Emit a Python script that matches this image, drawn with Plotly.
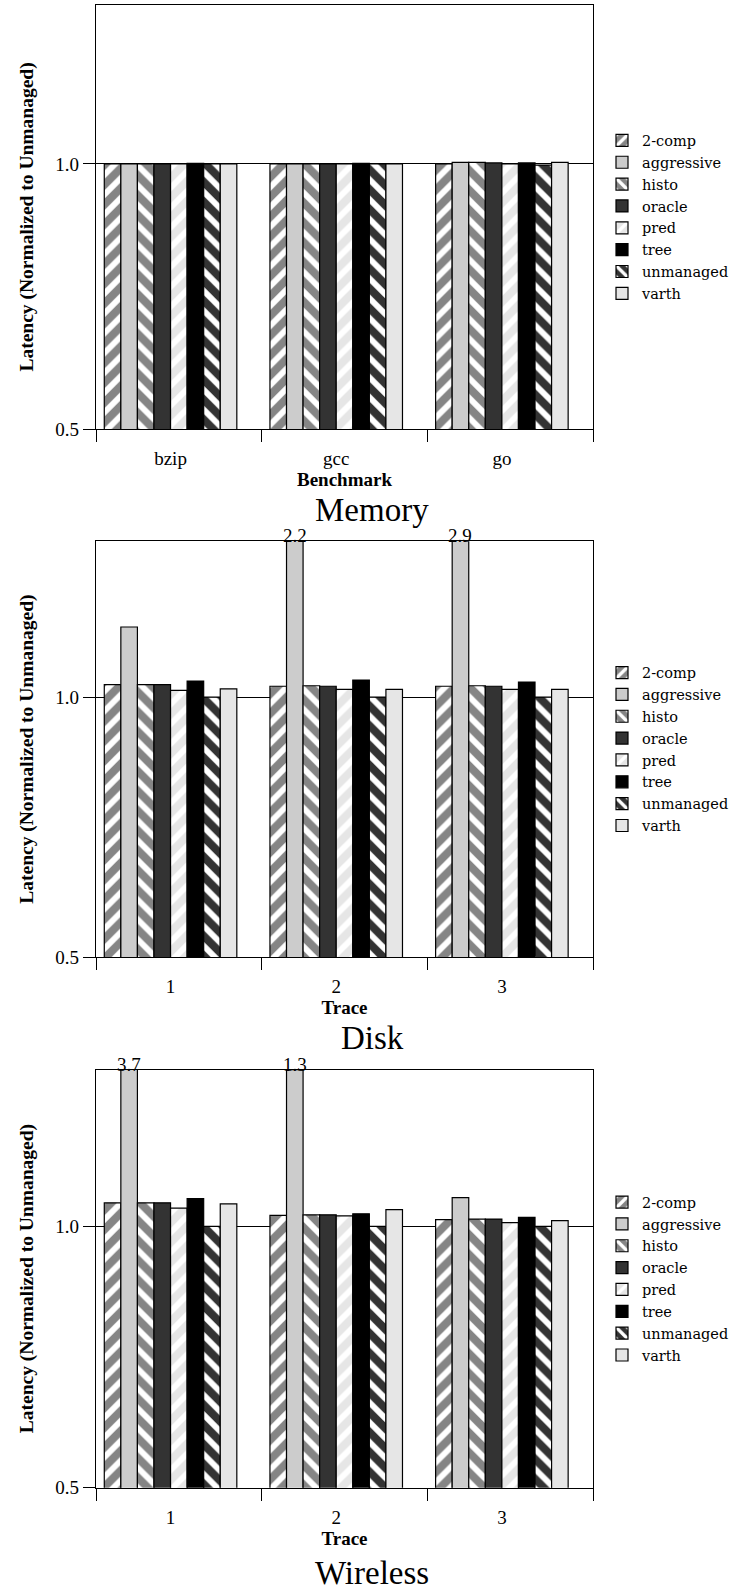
import plotly.graph_objects as go

# ---- data -------------------------------------------------------------
series = ["2-comp", "aggressive", "histo", "oracle", "pred", "tree", "unmanaged", "varth"]

benchmarks = ["bzip", "gcc", "go"]
traces = ["1", "2", "3"]

# latency normalised to the unmanaged policy, one row per series
memory_latency = [
    [1.000, 1.000, 1.000],   # 2-comp
    [1.000, 1.000, 1.003],   # aggressive
    [1.000, 1.000, 1.003],   # histo
    [1.000, 1.000, 1.002],   # oracle
    [1.000, 1.000, 1.000],   # pred
    [1.001, 1.001, 1.002],   # tree
    [1.000, 1.000, 0.998],   # unmanaged
    [1.000, 1.000, 1.003],   # varth
]

disk_latency = [
    [1.024, 1.021, 1.021],   # 2-comp
    [1.135, 2.2, 2.9],       # aggressive
    [1.024, 1.022, 1.022],   # histo
    [1.024, 1.021, 1.021],   # oracle
    [1.013, 1.015, 1.015],   # pred
    [1.031, 1.033, 1.029],   # tree
    [1.000, 1.000, 1.000],   # unmanaged
    [1.016, 1.015, 1.015],   # varth
]

wireless_latency = [
    [1.045, 1.021, 1.013],   # 2-comp
    [3.7, 1.3, 1.055],       # aggressive
    [1.045, 1.022, 1.014],   # histo
    [1.045, 1.022, 1.014],   # oracle
    [1.035, 1.020, 1.007],   # pred
    [1.053, 1.024, 1.017],   # tree
    [1.000, 1.000, 1.000],   # unmanaged
    [1.043, 1.032, 1.011],   # varth
]

y_ticks = [0.5, 1.0]
y_tick_labels = ["0.5", "1.0"]

# ---- styling ------------------------------------------------------------
fill = ["#858585", "#cccccc", "#858585", "#333333", "#e6e6e6", "#000000", "#333333", "#e6e6e6"]
hatch = ["/", "", "\\", "", "/", "", "\\", ""]

W, H = 744, 1594
PLOT_LEFT, PLOT_RIGHT = 96, 593
panel_top = [5, 545, 1077]
panel_bottom = [432, 963.7, 1498]
title_gap = [82, 82, 86]
Y_MIN, Y_MAX = 0.5, 1.3
BAR_W = 0.1
X_RANGE = [-0.45, 2.55]

SERIF = "Liberation Serif"
WIDE_SERIF = "DejaVu Serif"

panels = [
    (benchmarks, memory_latency, "Benchmark", "Memory"),
    (traces, disk_latency, "Trace", "Disk"),
    (traces, wireless_latency, "Trace", "Wireless"),
]

fig = go.Figure()
annotations = []


def py(px):
    return 1 - px / H


for p, (cats, values, xtitle, ptitle) in enumerate(panels):
    sfx = "" if p == 0 else str(p + 1)
    xref, yref = "x" + sfx, "y" + sfx
    legend_id = "legend" + sfx
    xpos = list(range(len(cats)))

    for k, name in enumerate(series):
        offset = -0.4 + BAR_W * k
        fig.add_trace(go.Bar(
            x=xpos, y=values[k], name=name,
            xaxis=xref, yaxis=yref, legend=legend_id,
            width=BAR_W, offset=offset,
            marker=dict(
                color=fill[k],
                line=dict(color="black", width=1.2),
                pattern=dict(shape=hatch[k], fgcolor="white", bgcolor=fill[k],
                             size=14, solidity=0.42, fillmode="replace"),
            ),
        ))
        # values that run past the top of the axis get their number printed
        for i, v in enumerate(values[k]):
            if v >= Y_MAX:
                annotations.append(dict(
                    x=xpos[i] + offset + BAR_W / 2, y=Y_MAX, xref=xref, yref=yref,
                    text=f"{v:.1f}", showarrow=False, yanchor="bottom", yshift=-7,
                    font=dict(family=SERIF, size=19, color="black"),
                ))

    dom = [py(panel_bottom[p]), py(panel_top[p])]
    fig.update_layout({
        "xaxis" + sfx: dict(
            domain=[PLOT_LEFT / W, PLOT_RIGHT / W], anchor=yref, range=X_RANGE,
            tickmode="array", tickvals=xpos, ticktext=cats,
            ticks="outside", ticklen=12, tickcolor="rgba(0,0,0,0)",
            tickfont=dict(family=SERIF, size=19, color="black"),
            minor=dict(tickmode="array", tickvals=[c + 0.55 for c in [-1] + xpos],
                       ticks="outside", ticklen=12, tickcolor="black", tickwidth=1.3),
            showline=True, linecolor="black", linewidth=1.3, mirror=True,
            showgrid=False, zeroline=False, fixedrange=True,
            title=dict(text=f"<b>{xtitle}</b>", standoff=3,
                       font=dict(family=SERIF, size=19, color="black")),
        ),
        "yaxis" + sfx: dict(
            domain=dom, anchor=xref, range=[Y_MIN, Y_MAX],
            tickmode="array", tickvals=y_ticks, ticktext=y_tick_labels,
            ticks="outside", ticklen=12, tickwidth=1.3, tickcolor="black",
            tickfont=dict(family=SERIF, size=19, color="black"),
            showgrid=True, gridcolor="black", gridwidth=1.3,
            showline=True, linecolor="black", linewidth=1.3, mirror=True,
            zeroline=False, fixedrange=True,
            title=dict(text="<b>Latency (Normalized to Unmanaged)</b>", standoff=16,
                       font=dict(family=SERIF, size=19.5, color="black")),
        ),
        legend_id: dict(
            x=602 / W, xanchor="left",
            y=py((panel_top[p] + panel_bottom[p]) / 2), yanchor="middle",
            bgcolor="rgba(0,0,0,0)", borderwidth=0,
            font=dict(family=WIDE_SERIF, size=14.5, color="black"),
            itemclick=False, itemdoubleclick=False,
        ),
    })
    annotations.append(dict(
        x=0.5, y=py(panel_bottom[p] + title_gap[p]), xref="paper", yref="paper",
        text=ptitle, showarrow=False, xanchor="center", yanchor="middle",
        font=dict(family=SERIF, size=33, color="black"),
    ))

fig.update_layout(
    width=W, height=H,
    margin=dict(l=0, r=0, t=0, b=0),
    barmode="overlay",
    plot_bgcolor="white", paper_bgcolor="white",
    showlegend=True,
    annotations=annotations,
)

fig.write_html("out.html")
